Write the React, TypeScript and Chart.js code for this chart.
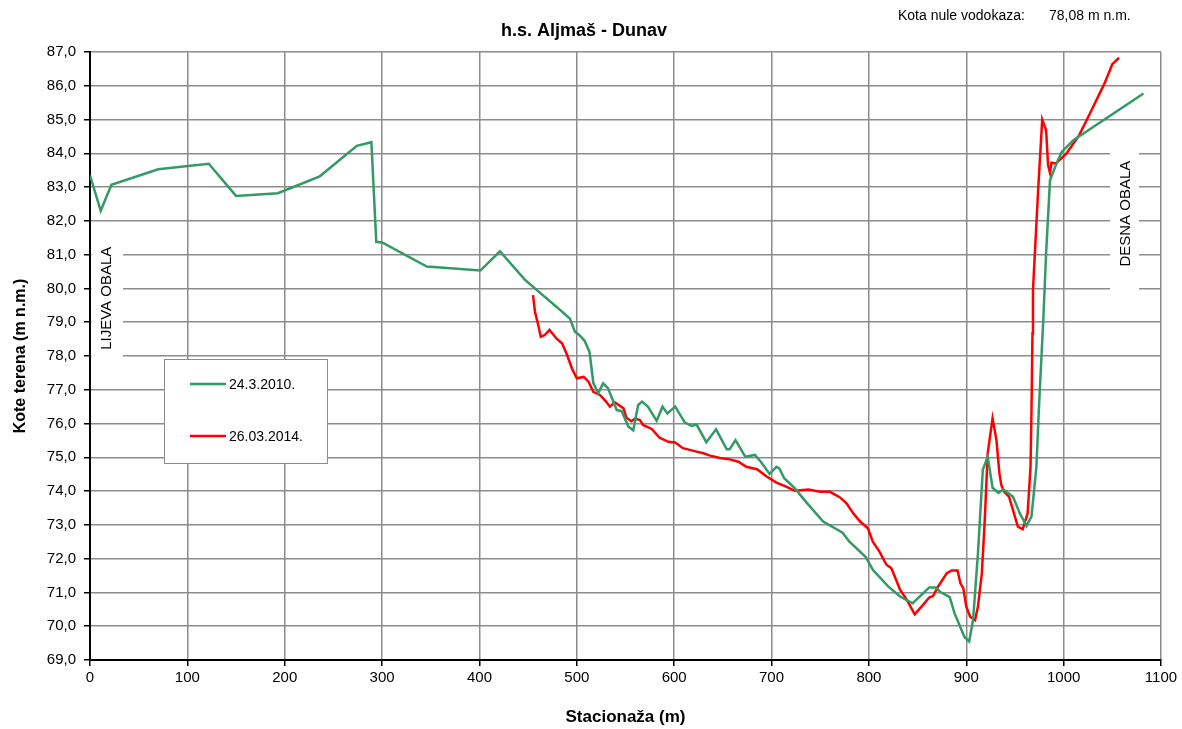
import { useEffect, useRef } from 'react';
import { Chart, registerables } from 'chart.js';

Chart.register(...registerables);

const FONT = '"Liberation Sans", Arial, sans-serif';

const chartTitle = 'h.s. Aljmaš - Dunav';
const gaugeLabel = 'Kota nule vodokaza:';
const gaugeValue = '78,08 m n.m.';
const xAxisTitle = 'Stacionaža (m)';
const yAxisTitle = 'Kote terena (m n.m.)';
const leftBankLabel = 'LIJEVA OBALA';
const rightBankLabel = 'DESNA OBALA';
const seriesNames = ['24.3.2010.', '26.03.2014.'];

const xMin = 0;
const xMax = 1100;
const xStep = 100;
const yMin = 69;
const yMax = 87;
const yStep = 1;

const station2010 = [
  0, 11, 22, 70, 122, 150, 193, 236, 274, 289, 294, 300, 346, 401, 421, 447, 459, 479, 493, 498,
  502, 508, 513, 517, 522, 527, 532, 541, 546, 553, 558, 563, 567, 573, 582, 588, 593, 601, 611, 618,
  623, 633, 643, 654, 657, 663, 673, 683, 689, 698, 705, 708, 713, 724, 736, 753, 773, 780, 797, 804,
  820, 832, 845, 862, 869, 873, 883, 888, 898, 903, 907, 912, 917, 922, 927, 933, 938, 948, 955, 962,
  967, 972, 975, 979, 982, 986, 992, 998, 1010, 1082,
];
const elev2010 = [
  83.35, 82.3, 83.07, 83.53, 83.69, 82.74, 82.82, 83.32, 84.22, 84.33, 81.38, 81.36, 80.65, 80.53, 81.1, 80.25, 79.95, 79.46, 79.1, 78.72,
  78.64, 78.45, 78.12, 77.2, 76.9, 77.19, 77.05, 76.4, 76.37, 75.91, 75.8, 76.55, 76.65, 76.5, 76.08, 76.5, 76.3, 76.5, 76.03, 75.93,
  75.97, 75.45, 75.83, 75.24, 75.24, 75.51, 75.02, 75.07, 74.87, 74.51, 74.72, 74.67, 74.38, 74.08, 73.66, 73.1, 72.77, 72.5, 72.04, 71.67,
  71.17, 70.88, 70.68, 71.15, 71.15, 71.02, 70.86, 70.38, 69.69, 69.55, 70.19, 72.16, 74.63, 75.02, 74.1, 73.95, 74.05, 73.83, 73.34, 72.97,
  73.25, 74.72, 76.69, 79.0, 81.04, 83.2, 83.65, 84.04, 84.39, 85.77,
];

const station2014 = [
  455, 457, 460, 463, 467, 472, 479, 485, 490, 495, 500, 507, 512, 517, 524, 530, 534, 539, 548, 551,
  556, 560, 565, 568, 577, 585, 594, 601, 609, 616, 623, 630, 637, 647, 657, 666, 674, 685, 695, 705,
  715, 724, 738, 750, 760, 770, 777, 784, 791, 799, 804, 811, 818, 823, 828, 832, 839, 847, 854, 862,
  866, 871, 880, 885, 891, 894, 897, 900, 904, 909, 912, 916, 919, 922, 927, 931, 934, 936, 939, 944,
  948, 953, 958, 963, 966, 967, 968, 968.5, 974, 978, 982, 984, 986, 987.5, 992, 1003, 1016, 1027, 1042, 1050,
  1057,
];
const elev2014 = [
  79.8, 79.31, 78.96, 78.57, 78.62, 78.77, 78.52, 78.37, 78.03, 77.63, 77.34, 77.38, 77.24, 76.94, 76.84, 76.65, 76.5, 76.63, 76.45, 76.17,
  76.07, 76.15, 76.1, 75.96, 75.84, 75.58, 75.46, 75.44, 75.27, 75.22, 75.17, 75.12, 75.05, 74.98, 74.94, 74.87, 74.72, 74.65, 74.43, 74.25,
  74.13, 74.01, 74.05, 73.98, 73.98, 73.82, 73.64, 73.34, 73.1, 72.9, 72.5, 72.2, 71.82, 71.72, 71.37, 71.08, 70.78, 70.35, 70.58, 70.85,
  70.9, 71.17, 71.57, 71.65, 71.65, 71.27, 71.12, 70.58, 70.28, 70.18, 70.58, 71.57, 73.15, 75.12, 76.15, 75.51, 74.53, 74.18, 73.98, 73.83,
  73.44, 72.95, 72.87, 73.34, 74.72, 76.4, 78.67, 79.95, 83.01, 85.0, 84.68, 83.65, 83.42, 83.72, 83.7, 84.0, 84.54, 85.18, 86.07, 86.64,
  86.83,
];

const seriesColors = ['#339966', '#ff0000'];

const toPoints = (xs: number[], ys: number[]) => xs.map((x, i) => ({ x, y: ys[i] }));

const overlayPlugin = {
  id: 'overlay',
  beforeDatasetsDraw(chart: any) {
    const { ctx, scales } = chart;
    const xs = scales.x;
    const ys = scales.y;
    ctx.save();
    ctx.fillStyle = '#ffffff';
    const lx0 = xs.getPixelForValue(0) + 1.5;
    const lx1 = 123;
    const ly0 = ys.getPixelForValue(81.45);
    const ly1 = ys.getPixelForValue(77.85);
    ctx.fillRect(lx0, ly0, lx1 - lx0, ly1 - ly0);
    const rx0 = 1110;
    const rx1 = 1139;
    const ry0 = ys.getPixelForValue(84.4);
    const ry1 = ys.getPixelForValue(79.85);
    ctx.fillRect(rx0, ry0, rx1 - rx0, ry1 - ry0);
    ctx.restore();
  },
  afterDraw(chart: any) {
    const { ctx, scales } = chart;
    const ys = scales.y;
    ctx.save();
    ctx.fillStyle = '#000';
    ctx.font = `bold 18px ${FONT}`;
    ctx.textAlign = 'center';
    ctx.textBaseline = 'middle';
    ctx.fillText(chartTitle, 584, 31);
    ctx.font = `14px ${FONT}`;
    ctx.textAlign = 'left';
    ctx.textBaseline = 'alphabetic';
    ctx.fillText(gaugeLabel, 898, 20);
    ctx.fillText(gaugeValue, 1049, 20);
    ctx.font = `15px ${FONT}`;
    ctx.textAlign = 'center';
    ctx.textBaseline = 'middle';
    ctx.save();
    ctx.translate(107, (ys.getPixelForValue(81.45) + ys.getPixelForValue(77.85)) / 2 - 2);
    ctx.rotate(-Math.PI / 2);
    ctx.fillText(leftBankLabel, 0, 0);
    ctx.restore();
    ctx.save();
    ctx.translate(1126, (ys.getPixelForValue(84.4) + ys.getPixelForValue(79.85)) / 2 - 3);
    ctx.rotate(-Math.PI / 2);
    ctx.fillText(rightBankLabel, 0, 0);
    ctx.restore();
    const bx = 164.5;
    const by = 359.5;
    const bw = 163;
    const bh = 104;
    ctx.fillStyle = '#ffffff';
    ctx.fillRect(bx, by, bw, bh);
    ctx.strokeStyle = '#8c8c8c';
    ctx.lineWidth = 1;
    ctx.strokeRect(bx, by, bw, bh);
    const rows = [384, 436];
    ctx.font = `14px ${FONT}`;
    ctx.textAlign = 'left';
    ctx.textBaseline = 'middle';
    rows.forEach((ry, i) => {
      ctx.strokeStyle = seriesColors[i];
      ctx.lineWidth = 2.5;
      ctx.beginPath();
      ctx.moveTo(190, ry);
      ctx.lineTo(226, ry);
      ctx.stroke();
      ctx.fillStyle = '#000';
      ctx.fillText(seriesNames[i], 229, ry + 1);
    });
    ctx.restore();
  },
};

export default function App() {
  const canvasRef = useRef<HTMLCanvasElement | null>(null);

  useEffect(() => {
    const canvas = canvasRef.current;
    if (!canvas) return;
    const chart = new Chart(canvas, {
      type: 'line',
      data: {
        datasets: [
          {
            label: seriesNames[0],
            data: toPoints(station2010, elev2010),
            borderColor: seriesColors[0],
            backgroundColor: seriesColors[0],
            borderWidth: 2.5,
            pointRadius: 0,
            tension: 0,
            fill: false,
          },
          {
            label: seriesNames[1],
            data: toPoints(station2014, elev2014),
            borderColor: seriesColors[1],
            backgroundColor: seriesColors[1],
            borderWidth: 2.5,
            pointRadius: 0,
            tension: 0,
            fill: false,
          },
        ],
      },
      options: {
        responsive: false,
        animation: false,
        parsing: false,
        layout: { padding: { top: 52, right: 21, left: 0, bottom: 0 } },
        plugins: {
          legend: { display: false },
          title: { display: false },
          tooltip: { enabled: false },
        },
        scales: {
          x: {
            type: 'linear',
            min: xMin,
            max: xMax,
            ticks: {
              stepSize: xStep,
              color: '#000',
              font: { family: FONT, size: 15 },
              padding: 3,
              maxRotation: 0,
              autoSkip: false,
              callback: (v: any) => String(Math.round(Number(v))),
            },
            grid: { color: '#8c8c8c', lineWidth: 1.5, tickLength: 6, tickColor: '#000', tickWidth: 1.5 },
            border: { color: '#000', width: 2 },
            title: {
              display: true,
              text: xAxisTitle,
              color: '#000',
              font: { family: FONT, size: 17, weight: 'bold' },
              padding: { top: 0, bottom: 1 },
            },
            afterFit: (s: any) => {
              s.height = 69;
            },
          },
          y: {
            type: 'linear',
            min: yMin,
            max: yMax,
            ticks: {
              stepSize: yStep,
              color: '#000',
              font: { family: FONT, size: 15 },
              padding: 8,
              autoSkip: false,
              callback: (v: any) => Number(v).toFixed(1).replace('.', ','),
            },
            grid: { color: '#8c8c8c', lineWidth: 1.5, tickLength: 6, tickColor: '#000', tickWidth: 1.5 },
            border: { color: '#000', width: 2 },
            title: {
              display: true,
              text: yAxisTitle,
              color: '#000',
              font: { family: FONT, size: 16, weight: 'bold' },
              padding: { top: 10.5, bottom: 0 },
            },
            afterFit: (s: any) => {
              s.width = 90;
            },
          },
        },
      },
      plugins: [overlayPlugin],
    } as any);
    return () => chart.destroy();
  }, []);

  return (
    <div style={{ position: 'fixed', left: 0, top: 0, width: 1182, height: 729, background: '#fff' }}>
      <canvas ref={canvasRef} width={1182} height={729} style={{ display: 'block' }} />
    </div>
  );
}
